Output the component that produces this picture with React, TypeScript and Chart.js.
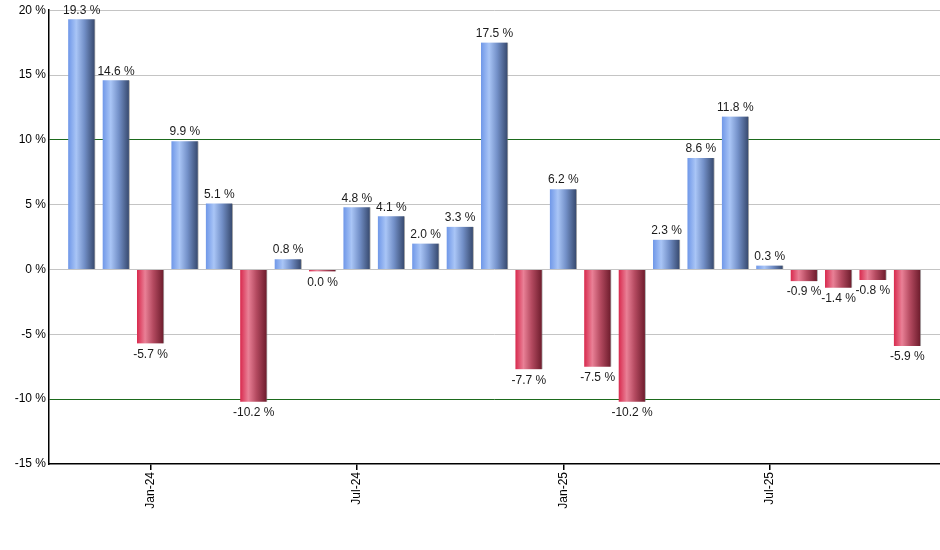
import { useEffect, useRef } from "react";
import { Chart, registerables, type Plugin } from "chart.js";

Chart.register(...registerables);

const months = [
  "Nov-23", "Dec-23", "Jan-24", "Feb-24", "Mar-24", "Apr-24", "May-24",
  "Jun-24", "Jul-24", "Aug-24", "Sep-24", "Oct-24", "Nov-24", "Dec-24",
  "Jan-25", "Feb-25", "Mar-25", "Apr-25", "May-25", "Jun-25", "Jul-25",
  "Aug-25", "Sep-25", "Oct-25", "Nov-25",
];

const returns = [
  19.3, 14.6, -5.7, 9.9, 5.1, -10.2, 0.8, -0.04, 4.8, 4.1, 2.0, 3.3, 17.5,
  -7.7, 6.2, -7.5, -10.2, 2.3, 8.6, 11.8, 0.3, -0.9, -1.4, -0.8, -5.9,
];

const tickLabels = ["Jan-24", "Jul-24", "Jan-25", "Jul-25"];

const FONT = "'Liberation Sans', Arial, sans-serif";
const BAR_W = 27;

const fmt = (v: number) => `${(Math.abs(v) < 0.05 ? 0 : v).toFixed(1)} %`;

const valueLabels: Plugin<"bar"> = {
  id: "valueLabels",
  afterDatasetsDraw(chart) {
    const { ctx } = chart;
    const meta = chart.getDatasetMeta(0);
    ctx.save();
    ctx.font = `12px ${FONT}`;
    ctx.fillStyle = "#1a1a1a";
    ctx.textAlign = "center";
    meta.data.forEach((bar: any, i) => {
      const v = returns[i];
      if (v >= 0) {
        ctx.textBaseline = "bottom";
        ctx.fillText(fmt(v), bar.x, bar.y - 3);
      } else {
        ctx.textBaseline = "top";
        ctx.fillText(fmt(v), bar.x, bar.y + 5);
      }
    });
    ctx.restore();
  },
};

export default function App() {
  const canvasRef = useRef<HTMLCanvasElement | null>(null);

  useEffect(() => {
    document.body.style.margin = "0";
    const canvas = canvasRef.current;
    if (!canvas) return;

    const chart = new Chart(canvas, {
      type: "bar",
      data: {
        datasets: [
          {
            data: returns.map((y, x) => ({ x, y })),
            barThickness: BAR_W,
            minBarLength: 2,
            borderWidth: { right: 1, left: 0, top: 0, bottom: 0 },
            borderColor: "rgba(120,120,120,0.6)",
            borderSkipped: false,
            backgroundColor: (c: any) => {
              const chart = c.chart;
              const xs = chart.scales?.x;
              const v = returns[c.dataIndex] ?? 0;
              const pos = v >= 0;
              const fallback = pos ? "#7d9cd6" : "#c83a56";
              if (!xs) return fallback;
              const cx = xs.getPixelForValue(c.dataIndex);
              if (!Number.isFinite(cx)) return fallback;
              const g = chart.ctx.createLinearGradient(cx - BAR_W / 2, 0, cx + BAR_W / 2, 0);
              if (pos) {
                g.addColorStop(0, "#6f97e8");
                g.addColorStop(0.3, "#a9c5f6");
                g.addColorStop(0.6, "#7390c8");
                g.addColorStop(1, "#34466a");
              } else {
                g.addColorStop(0, "#d8294d");
                g.addColorStop(0.3, "#e98096");
                g.addColorStop(0.6, "#b44a60");
                g.addColorStop(1, "#6a1a2a");
              }
              return g;
            },
          },
        ],
      },
      options: {
        animation: false,
        responsive: true,
        maintainAspectRatio: false,
        layout: { padding: { top: 2, right: 0, left: 0, bottom: 0 } },
        plugins: {
          legend: { display: false },
          tooltip: { enabled: false },
        },
        scales: {
          x: {
            type: "linear",
            min: -0.95,
            max: months.length - 0.05,
            offset: false,
            afterBuildTicks: (scale) => {
              scale.ticks = tickLabels.map((l) => ({ value: months.indexOf(l) }));
            },
            afterFit: (scale) => {
              scale.height = 86;
            },
            grid: {
              offset: false,
              drawOnChartArea: false,
              drawTicks: true,
              tickLength: 6,
              color: "#000",
              lineWidth: 1.5,
            },
            border: { display: true, color: "#000", width: 1.5 },
            ticks: {
              autoSkip: false,
              maxRotation: 90,
              minRotation: 90,
              padding: 2,
              color: "#000",
              font: { family: FONT, size: 12 },
              callback: (v) => months[Math.round(Number(v))] ?? "",
            },
          },
          y: {
            min: -15,
            max: 20,
            afterFit: (scale) => {
              scale.width = 49;
            },
            afterBuildTicks: (scale) => {
              const t = [];
              for (let v = -15; v <= 20; v += 5) t.push({ value: v });
              scale.ticks = t;
            },
            grid: {
              drawTicks: false,
              lineWidth: 1,
              color: (c) => {
                const v = c.tick?.value;
                if (v === 10 || v === -10) return "#1d6a1d";
                if (v === -15) return "rgba(0,0,0,0)";
                return "#c4c4c4";
              },
            },
            border: { display: true, color: "#000", width: 1.5 },
            ticks: {
              padding: 3,
              color: "#000",
              font: { family: FONT, size: 12 },
              callback: (v) => `${v} %`,
            },
          },
        },
      },
      plugins: [valueLabels],
    });

    return () => {
      chart.destroy();
    };
  }, []);

  return (
    <div style={{ width: 940, height: 550, position: "relative" }}>
      <canvas ref={canvasRef} />
    </div>
  );
}
